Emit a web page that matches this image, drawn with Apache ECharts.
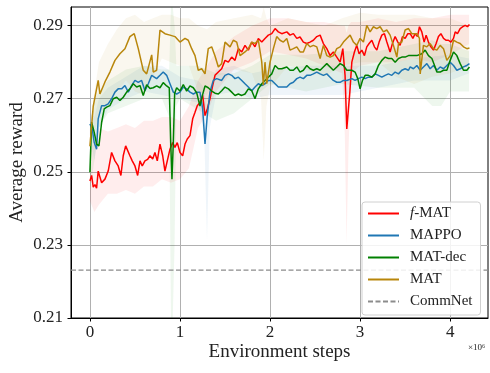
<!DOCTYPE html>
<html>
<head>
<meta charset="utf-8">
<script src="https://cdn.jsdelivr.net/npm/echarts@6/dist/echarts.min.js"></script>
<style>
  html, body { margin: 0; padding: 0; background: #fff; }
  #chart { width: 490px; height: 373px; }
</style>
</head>
<body>
<div id="chart"></div>
<script>
// x in units of 1e6 environment steps, y = average reward
const seriesNames = ["f-MAT", "MAPPO", "MAT-dec", "MAT", "CommNet"];
const xTicks = [0, 1, 2, 3, 4];
const yTicks = [0.21, 0.23, 0.25, 0.27, 0.29];
const commnetReward = 0.2231;

const fmatPts = [[0,0.2475],[0.019,0.249],[0.037,0.2458],[0.056,0.2465],[0.074,0.2455],[0.092,0.2502],[0.13,0.247],[0.167,0.248],[0.203,0.2502],[0.241,0.2553],[0.278,0.253],[0.314,0.2516],[0.344,0.249],[0.37,0.2544],[0.397,0.2571],[0.419,0.2576],[0.444,0.2544],[0.47,0.253],[0.5,0.2516],[0.53,0.249],[0.556,0.253],[0.581,0.2516],[0.611,0.253],[0.641,0.2534],[0.667,0.2544],[0.697,0.2535],[0.722,0.2553],[0.748,0.253],[0.778,0.2576],[0.808,0.2544],[0.833,0.2502],[0.859,0.253],[0.889,0.2562],[0.919,0.258],[0.944,0.2567],[0.97,0.258],[1.0,0.2553],[1.03,0.2544],[1.056,0.2576],[1.081,0.259],[1.111,0.2599],[1.141,0.2645],[1.167,0.2663],[1.192,0.2681],[1.222,0.269],[1.252,0.2709],[1.278,0.2654],[1.303,0.2672],[1.333,0.27],[1.363,0.2736],[1.389,0.2764],[1.426,0.2773],[1.463,0.2782],[1.5,0.2805],[1.537,0.28],[1.574,0.2814],[1.611,0.2805],[1.648,0.2837],[1.686,0.2828],[1.722,0.2846],[1.759,0.2833],[1.797,0.2855],[1.833,0.2842],[1.87,0.2865],[1.908,0.2855],[1.944,0.2865],[1.981,0.2874],[2.019,0.2878],[2.056,0.2892],[2.092,0.2883],[2.13,0.2878],[2.148,0.2878],[2.186,0.2883],[2.222,0.2874],[2.259,0.2878],[2.297,0.2865],[2.333,0.2869],[2.37,0.2855],[2.408,0.2851],[2.444,0.2855],[2.481,0.286],[2.519,0.287],[2.556,0.2874],[2.592,0.2851],[2.63,0.2837],[2.667,0.2818],[2.703,0.2828],[2.741,0.2814],[2.778,0.28],[2.808,0.2837],[2.833,0.2764],[2.852,0.2617],[2.867,0.2612],[2.886,0.2718],[2.908,0.28],[2.937,0.2828],[2.963,0.2846],[2.989,0.2823],[3.019,0.2833],[3.048,0.2818],[3.074,0.2842],[3.1,0.2851],[3.13,0.286],[3.159,0.2842],[3.186,0.2833],[3.211,0.2855],[3.241,0.2874],[3.27,0.2878],[3.297,0.2855],[3.333,0.2828],[3.359,0.2851],[3.389,0.287],[3.419,0.2855],[3.444,0.2846],[3.47,0.287],[3.5,0.2865],[3.53,0.2878],[3.556,0.2878],[3.586,0.2865],[3.611,0.2878],[3.637,0.287],[3.659,0.2897],[3.685,0.2883],[3.711,0.2855],[3.733,0.2874],[3.759,0.2855],[3.786,0.2842],[3.815,0.2833],[3.844,0.2851],[3.87,0.287],[3.897,0.2878],[3.926,0.2865],[3.956,0.286],[3.981,0.286],[4.008,0.2855],[4.037,0.2865],[4.056,0.2883],[4.081,0.2878],[4.111,0.2892],[4.141,0.2897],[4.167,0.2901],[4.192,0.2897],[4.214,0.2903]];

const mappoPts = [[0,0.2631],[0.026,0.2617],[0.048,0.258],[0.074,0.2562],[0.092,0.2645],[0.13,0.2681],[0.167,0.2681],[0.203,0.2686],[0.241,0.27],[0.278,0.2718],[0.314,0.2727],[0.352,0.2727],[0.389,0.2736],[0.426,0.2718],[0.463,0.2736],[0.5,0.275],[0.537,0.2745],[0.574,0.275],[0.611,0.2722],[0.648,0.2741],[0.686,0.2764],[0.703,0.2768],[0.741,0.2755],[0.778,0.2764],[0.814,0.2773],[0.852,0.2764],[0.889,0.2741],[0.926,0.2718],[0.963,0.2713],[1.0,0.2718],[1.037,0.2732],[1.074,0.2727],[1.111,0.2718],[1.148,0.2713],[1.186,0.2718],[1.222,0.2718],[1.252,0.2672],[1.278,0.2576],[1.303,0.2654],[1.333,0.2718],[1.37,0.275],[1.408,0.2755],[1.463,0.275],[1.5,0.2764],[1.537,0.2768],[1.574,0.2764],[1.611,0.2755],[1.648,0.2759],[1.686,0.275],[1.722,0.2741],[1.759,0.2732],[1.797,0.2722],[1.833,0.2732],[1.87,0.2741],[1.908,0.2736],[1.944,0.2741],[1.981,0.275],[2.019,0.275],[2.056,0.2741],[2.092,0.2732],[2.13,0.2732],[2.148,0.2727],[2.186,0.2732],[2.222,0.2741],[2.259,0.2745],[2.297,0.2755],[2.333,0.2759],[2.37,0.2755],[2.408,0.2764],[2.444,0.2764],[2.481,0.2768],[2.519,0.2773],[2.556,0.2768],[2.592,0.2764],[2.63,0.2768],[2.667,0.2759],[2.703,0.275],[2.741,0.2745],[2.778,0.2745],[2.815,0.275],[2.852,0.275],[2.87,0.275],[2.908,0.2755],[2.944,0.275],[2.981,0.2755],[3.019,0.2759],[3.056,0.2755],[3.092,0.2759],[3.13,0.2759],[3.167,0.2768],[3.203,0.2764],[3.241,0.2759],[3.278,0.2764],[3.314,0.2768],[3.352,0.2764],[3.389,0.2773],[3.426,0.2768],[3.463,0.2778],[3.5,0.2782],[3.537,0.2778],[3.556,0.2787],[3.592,0.2782],[3.63,0.2791],[3.667,0.2778],[3.703,0.2787],[3.741,0.2796],[3.778,0.2782],[3.815,0.2791],[3.852,0.2778],[3.889,0.2787],[3.926,0.2782],[3.963,0.2791],[4.0,0.28],[4.037,0.2791],[4.074,0.2778],[4.111,0.2782],[4.148,0.2787],[4.185,0.2791],[4.214,0.2796]];

const matDecPts = [[0,0.2499],[0.019,0.2636],[0.048,0.2608],[0.074,0.2576],[0.1,0.2571],[0.13,0.2635],[0.159,0.2672],[0.186,0.2677],[0.222,0.2681],[0.259,0.27],[0.297,0.2704],[0.333,0.2695],[0.37,0.2704],[0.408,0.2718],[0.444,0.2727],[0.481,0.2741],[0.519,0.2732],[0.556,0.2736],[0.592,0.2709],[0.63,0.2738],[0.667,0.2728],[0.703,0.273],[0.741,0.2735],[0.778,0.273],[0.814,0.2744],[0.852,0.2735],[0.881,0.273],[0.897,0.258],[0.911,0.248],[0.926,0.258],[0.941,0.2715],[0.963,0.273],[1.0,0.2721],[1.037,0.2739],[1.074,0.2721],[1.111,0.2735],[1.148,0.273],[1.186,0.2716],[1.222,0.268],[1.252,0.2712],[1.278,0.2735],[1.314,0.273],[1.352,0.2721],[1.389,0.2715],[1.426,0.2713],[1.463,0.2722],[1.5,0.2732],[1.537,0.2727],[1.574,0.2718],[1.611,0.2709],[1.648,0.2713],[1.686,0.2709],[1.722,0.2713],[1.759,0.2727],[1.797,0.2722],[1.833,0.27],[1.87,0.2727],[1.908,0.2741],[1.944,0.275],[1.981,0.2759],[2.019,0.2768],[2.056,0.2791],[2.092,0.2782],[2.13,0.2782],[2.148,0.2778],[2.186,0.2787],[2.222,0.2778],[2.259,0.2778],[2.297,0.2787],[2.333,0.2773],[2.37,0.2778],[2.408,0.2791],[2.444,0.2782],[2.481,0.2778],[2.519,0.2782],[2.556,0.2778],[2.592,0.2787],[2.63,0.2796],[2.667,0.2787],[2.703,0.2778],[2.741,0.2787],[2.778,0.2796],[2.815,0.2791],[2.852,0.2778],[2.87,0.2773],[2.908,0.2778],[2.944,0.2773],[2.974,0.2755],[3.0,0.2727],[3.026,0.275],[3.056,0.2764],[3.092,0.2764],[3.13,0.2759],[3.167,0.2768],[3.203,0.2791],[3.241,0.2805],[3.278,0.2814],[3.314,0.281],[3.352,0.281],[3.389,0.28],[3.426,0.281],[3.463,0.2814],[3.5,0.2814],[3.537,0.2818],[3.592,0.2818],[3.63,0.2818],[3.685,0.2823],[3.722,0.2833],[3.759,0.2818],[3.797,0.281],[3.833,0.2787],[3.852,0.2773],[3.889,0.2773],[3.926,0.2778],[3.963,0.2778],[4.0,0.2805],[4.037,0.2828],[4.074,0.2818],[4.111,0.2796],[4.148,0.2778],[4.185,0.2778],[4.214,0.2787]];

const matPts = [[0,0.257],[0.037,0.268],[0.092,0.275],[0.111,0.2713],[0.167,0.2746],[0.222,0.2773],[0.278,0.2805],[0.333,0.2823],[0.389,0.2837],[0.444,0.287],[0.492,0.2878],[0.537,0.2837],[0.592,0.2778],[0.63,0.2768],[0.686,0.282],[0.703,0.2773],[0.741,0.2778],[0.778,0.2888],[0.833,0.2878],[0.889,0.2874],[0.944,0.287],[1.0,0.2855],[1.056,0.2865],[1.092,0.286],[1.13,0.2837],[1.167,0.2818],[1.203,0.2778],[1.241,0.2782],[1.278,0.2768],[1.314,0.2837],[1.352,0.2842],[1.389,0.2817],[1.426,0.2787],[1.463,0.2796],[1.5,0.2855],[1.556,0.2842],[1.592,0.286],[1.63,0.2855],[1.667,0.2818],[1.722,0.2828],[1.759,0.2837],[1.797,0.2855],[1.833,0.2851],[1.87,0.286],[1.908,0.28],[1.926,0.2737],[1.944,0.28],[1.963,0.2741],[2.0,0.28],[2.037,0.2837],[2.074,0.287],[2.111,0.286],[2.148,0.2855],[2.186,0.2865],[2.222,0.2833],[2.259,0.2837],[2.297,0.2842],[2.333,0.2828],[2.37,0.2828],[2.408,0.2851],[2.444,0.2842],[2.481,0.2846],[2.519,0.2842],[2.556,0.281],[2.592,0.2846],[2.63,0.2818],[2.667,0.2814],[2.703,0.2818],[2.741,0.2837],[2.778,0.2842],[2.815,0.2855],[2.852,0.2865],[2.889,0.2874],[2.926,0.2855],[2.963,0.2846],[3.0,0.2865],[3.037,0.2855],[3.074,0.2901],[3.111,0.2883],[3.148,0.2897],[3.185,0.2892],[3.222,0.2897],[3.259,0.2883],[3.296,0.2888],[3.333,0.2874],[3.37,0.2846],[3.408,0.2814],[3.426,0.2851],[3.463,0.2855],[3.5,0.2888],[3.537,0.2892],[3.574,0.2878],[3.63,0.2878],[3.659,0.2865],[3.667,0.2768],[3.689,0.2768],[3.703,0.2846],[3.741,0.2842],[3.778,0.2851],[3.815,0.2837],[3.852,0.2833],[3.889,0.2846],[3.926,0.2837],[3.963,0.2805],[4.0,0.2818],[4.037,0.286],[4.074,0.2855],[4.111,0.2851],[4.148,0.2842],[4.185,0.2837],[4.214,0.2839]];

// shaded spread around each curve (rough upper / lower envelopes)
const fmatBandX  = [0,0.05,0.1,0.2,0.3,0.4,0.5,0.6,0.7,0.8,0.9,1.0,1.1,1.2,1.3,1.4,1.6,1.8,2.0,2.2,2.4,2.6,2.8,2.83,2.85,2.87,2.9,3.0,3.2,3.4,3.6,3.8,4.0,4.21];
const fmatBandHi = [0.256,0.258,0.262,0.261,0.262,0.263,0.262,0.264,0.264,0.265,0.265,0.264,0.268,0.275,0.279,0.283,0.287,0.29,0.292,0.292,0.291,0.291,0.29,0.29,0.288,0.29,0.291,0.291,0.292,0.291,0.292,0.292,0.293,0.293];
const fmatBandLo = [0.242,0.239,0.241,0.244,0.244,0.245,0.244,0.246,0.246,0.248,0.247,0.248,0.251,0.262,0.266,0.272,0.278,0.28,0.283,0.282,0.281,0.279,0.277,0.26,0.23,0.255,0.277,0.279,0.28,0.28,0.281,0.28,0.282,0.285];

const mappoBandX  = [0,0.05,0.1,0.2,0.4,0.6,0.8,1.0,1.2,1.27,1.3,1.33,1.4,1.6,1.8,2.0,2.4,2.8,3.2,3.6,4.0,4.21];
const mappoBandHi = [0.266,0.265,0.27,0.273,0.276,0.279,0.279,0.276,0.275,0.273,0.266,0.273,0.278,0.279,0.277,0.278,0.279,0.279,0.279,0.281,0.282,0.281];
const mappoBandLo = [0.26,0.253,0.262,0.267,0.27,0.272,0.271,0.27,0.269,0.26,0.231,0.262,0.271,0.272,0.27,0.271,0.271,0.271,0.273,0.275,0.275,0.277];

const matDecBandX  = [0,0.05,0.1,0.2,0.4,0.6,0.8,0.88,0.9,0.92,0.94,0.96,1.0,1.2,1.4,1.6,1.8,2.0,2.4,2.8,3.2,3.6,3.8,3.9,4.0,4.21];
const matDecBandHi = [0.262,0.27,0.272,0.275,0.278,0.279,0.278,0.278,0.2951,0.2951,0.29,0.279,0.279,0.279,0.277,0.277,0.279,0.282,0.282,0.283,0.283,0.285,0.286,0.285,0.285,0.283];
const matDecBandLo = [0.245,0.253,0.262,0.266,0.268,0.27,0.27,0.265,0.21,0.21,0.23,0.268,0.27,0.267,0.264,0.266,0.27,0.274,0.272,0.274,0.273,0.273,0.268,0.268,0.272,0.272];

const matBandX  = [0,0.05,0.1,0.2,0.3,0.4,0.5,0.6,0.7,0.8,0.9,1.0,1.1,1.2,1.3,1.4,1.6,1.8,1.9,1.93,1.96,2.0,2.2,2.4,2.6,2.8,3.0,3.2,3.4,3.6,3.8,4.0,4.21];
const matBandHi = [0.262,0.272,0.28,0.285,0.289,0.292,0.293,0.291,0.292,0.293,0.293,0.292,0.292,0.29,0.289,0.291,0.292,0.293,0.292,0.2951,0.292,0.29,0.292,0.291,0.29,0.292,0.2935,0.293,0.293,0.293,0.292,0.292,0.29];
const matBandLo = [0.252,0.26,0.266,0.268,0.272,0.275,0.272,0.271,0.276,0.281,0.28,0.279,0.279,0.272,0.271,0.276,0.278,0.277,0.27,0.253,0.268,0.273,0.279,0.278,0.276,0.279,0.28,0.28,0.276,0.274,0.276,0.277,0.279];

const xMin = -0.21, xMax = 4.42, yMin = 0.21, yMax = 0.2951;
const serif = "Liberation Serif";
const colors = { "f-MAT": "#ff0000", "MAPPO": "#1f77b4", "MAT-dec": "#008000", "MAT": "#b8860b", "CommNet": "#8c8c8c" };

// one filled polygon per band, placed through the grid's coordinate system
function bandSeries(key, xs, lo, hi, rgba) {
  return {
    name: key, type: "custom", silent: true, clip: true, z: 1,
    data: xs.map((x, i) => [x, lo[i], hi[i]]),
    encode: { x: 0, y: [1, 2] },
    renderItem: function (params, api) {
      if (params.dataIndex !== 0) return null;
      const pts = [];
      for (let i = 0; i < xs.length; i++) pts.push(api.coord([xs[i], hi[i]]));
      for (let i = xs.length - 1; i >= 0; i--) pts.push(api.coord([xs[i], lo[i]]));
      return { type: "polygon", shape: { points: pts }, style: { fill: rgba } };
    }
  };
}

function lineSeries(name, pts) {
  return {
    name: name, type: "line", data: pts, symbol: "none", showSymbol: false,
    lineStyle: { color: colors[name], width: 1.5 }, itemStyle: { color: colors[name] }, z: 3
  };
}

const series = [
  bandSeries("fmat", fmatBandX, fmatBandLo, fmatBandHi, "rgba(255,0,0,0.07)"),
  bandSeries("mappo", mappoBandX, mappoBandLo, mappoBandHi, "rgba(31,119,180,0.07)"),
  bandSeries("matdec", matDecBandX, matDecBandLo, matDecBandHi, "rgba(0,128,0,0.065)"),
  bandSeries("mat", matBandX, matBandLo, matBandHi, "rgba(184,134,11,0.065)"),
  lineSeries("f-MAT", fmatPts),
  lineSeries("MAPPO", mappoPts),
  lineSeries("MAT-dec", matDecPts),
  lineSeries("MAT", matPts),
  {
    name: "CommNet", type: "line", symbol: "none",
    data: [[xMin, commnetReward], [xMax, commnetReward]],
    lineStyle: { color: colors["CommNet"], width: 1.2, type: [5, 2.5] },
    itemStyle: { color: colors["CommNet"] }, z: 2
  }
];

const chart = echarts.init(document.getElementById("chart"), null, { renderer: "canvas" });
chart.setOption({
  animation: false,
  backgroundColor: "#fff",
  grid: { left: 71, right: 2, top: 7, bottom: 55, outerBoundsMode: "none", containLabel: false,
    show: true, borderColor: "#000", borderWidth: 1, backgroundColor: "transparent" },
  xAxis: {
    type: "value", min: xMin, max: xMax,
    name: "Environment steps", nameLocation: "middle", nameGap: 25, nameMoveOverlap: false,
    nameTextStyle: { fontFamily: serif, fontSize: 19, color: "#222" },
    axisLine: { onZero: false, lineStyle: { color: "#000", width: 1 } },
    axisTick: { show: true, length: 3.5, lineStyle: { color: "#000" }, customValues: xTicks },
    axisLabel: { customValues: xTicks, fontFamily: serif, fontSize: 17, color: "#222", margin: 6 },
    splitLine: { show: true, lineStyle: { color: "#b0b0b0", width: 1 } }
  },
  yAxis: {
    type: "value", min: yMin, max: yMax,
    name: "Average reward", nameLocation: "middle", nameGap: 44, nameMoveOverlap: false,
    nameTextStyle: { fontFamily: serif, fontSize: 19, color: "#222" },
    axisLine: { show: true, onZero: false, lineStyle: { color: "#000", width: 1 } },
    axisTick: { show: true, length: 3.5, lineStyle: { color: "#000" }, customValues: yTicks },
    axisLabel: { customValues: yTicks, fontFamily: serif, fontSize: 17, color: "#222", margin: 8,
      formatter: (v) => v.toFixed(2) },
    splitLine: { show: true, lineStyle: { color: "#b0b0b0", width: 1 } }
  },
  legend: {
    data: seriesNames, orient: "vertical", left: 362, top: 202,
    itemWidth: 31, itemHeight: 14, itemGap: 7,
    padding: [4, 8, 6, 5],
    itemStyle: { opacity: 0 },
    backgroundColor: "rgba(255,255,255,0.85)", borderColor: "#d0d0d0", borderWidth: 1, borderRadius: 3,
    formatter: (name) => name === "f-MAT" ? "{i|f}-MAT" : name,
    textStyle: { fontFamily: serif, fontSize: 15, color: "#222", padding: [0, 0, 0, 6],
      rich: { i: { fontFamily: serif, fontStyle: "italic", fontSize: 15, color: "#222" } } }
  },
  graphic: [{
    type: "text", left: 468, top: 343,
    style: { text: "×10⁶", fontFamily: serif, fontSize: 9, fill: "#222" }
  }],
  series: series
});
</script>
</body>
</html>
